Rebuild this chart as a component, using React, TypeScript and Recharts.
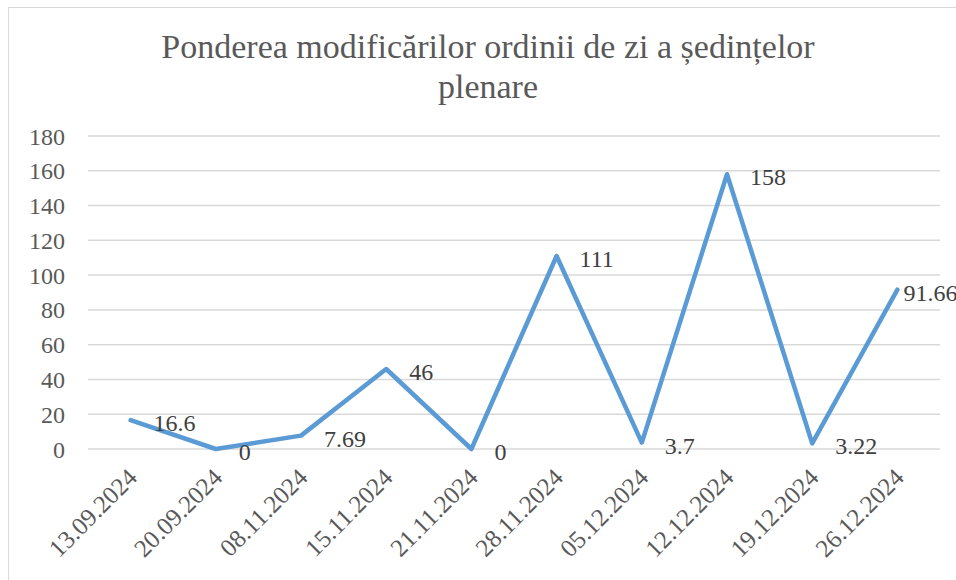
import { CartesianGrid, Line, LineChart, XAxis, YAxis } from "recharts";

const dates = [
  "13.09.2024",
  "20.09.2024",
  "08.11.2024",
  "15.11.2024",
  "21.11.2024",
  "28.11.2024",
  "05.12.2024",
  "12.12.2024",
  "19.12.2024",
  "26.12.2024",
];
const values = [16.6, 0, 7.69, 46, 0, 111, 3.7, 158, 3.22, 91.66];
const yTicks = [0, 20, 40, 60, 80, 100, 120, 140, 160, 180];

const data = dates.map((d, i) => ({ d, v: values[i] }));

const serif = "'Liberation Serif', 'Times New Roman', serif";

function DateTick({ x, y, payload }: any) {
  return (
    <g transform={`translate(${x + 8},${y + 30})`}>
      <text
        transform="rotate(-45)"
        textAnchor="end"
        fill="#595959"
        fontSize={25}
        fontFamily={serif}
      >
        {payload.value}
      </text>
    </g>
  );
}

function ValueLabel({ x, y, value, index }: any) {
  const dx = index === values.length - 1 ? 6 : 23;
  return (
    <text
      x={x + dx}
      y={y + 3}
      dominantBaseline="central"
      fill="#404040"
      fontSize={24}
      fontFamily={serif}
    >
      {value}
    </text>
  );
}

export default function App() {
  return (
    <div
      style={{
        position: "relative",
        width: 956,
        height: 580,
        overflow: "hidden",
        background: "#fff",
      }}
    >
      <style>{"body{margin:0}"}</style>
      <div
        style={{
          position: "absolute",
          left: 8,
          top: 7,
          width: 1200,
          height: 1200,
          borderLeft: "1.5px solid #d9d9d9",
          borderTop: "1.5px solid #d9d9d9",
        }}
      />
      <div
        style={{
          position: "absolute",
          left: 0,
          top: 27,
          width: 976,
          textAlign: "center",
          fontFamily: serif,
          fontSize: 34,
          lineHeight: "40px",
          color: "#595959",
        }}
      >
        Ponderea modificărilor ordinii de zi a ședințelor
        <br />
        plenare
      </div>
      <div style={{ position: "absolute", left: 0, top: 0 }}>
        <LineChart
          width={956}
          height={580}
          data={data}
          margin={{ top: 136, right: 16, bottom: 0, left: 0 }}
        >
          <CartesianGrid vertical={false} stroke="#d9d9d9" strokeWidth={1.5} />
          <XAxis
            dataKey="d"
            axisLine={false}
            tickLine={false}
            tickSize={0}
            tickMargin={0}
            interval={0}
            padding={{ left: 42.6, right: 42.6 }}
            tick={<DateTick />}
            height={131}
          />
          <YAxis
            domain={[0, 180]}
            ticks={yTicks}
            interval={0}
            axisLine={false}
            tickLine={false}
            tickSize={0}
            tickMargin={23}
            width={88}
            tick={{ fill: "#595959", fontSize: 24, fontFamily: serif }}
          />
          <Line
            dataKey="v"
            stroke="#5b9bd5"
            strokeWidth={4.5}
            strokeLinejoin="round"
            strokeLinecap="round"
            dot={false}
            activeDot={false}
            isAnimationActive={false}
            label={<ValueLabel />}
          />
        </LineChart>
      </div>
    </div>
  );
}
